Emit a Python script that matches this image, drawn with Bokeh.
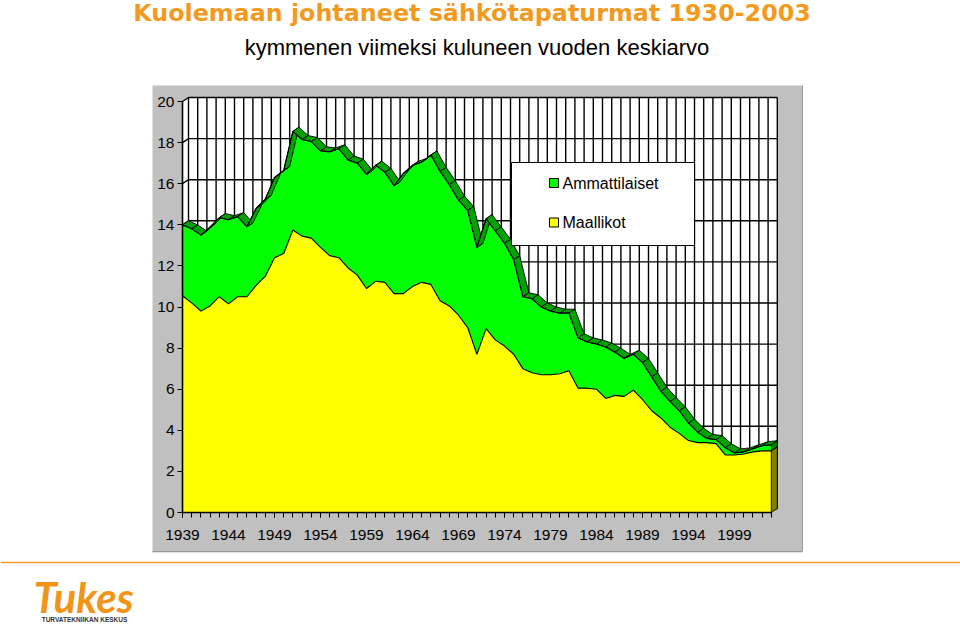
from bokeh.plotting import figure
from bokeh.models import Range1d, LinearAxis, FixedTicker
from bokeh.core.properties import value
from bokeh.embed import file_html
from bokeh.resources import INLINE

# ---------------- data ----------------
years = list(range(1939, 2004))
maallikot = [10.55, 10.2, 9.8, 10.05, 10.5, 10.15, 10.5, 10.5, 11.05, 11.5,
             12.4, 12.6, 13.75, 13.45, 13.35, 12.9, 12.5, 12.4, 11.9, 11.55,
             10.9, 11.25, 11.2, 10.65, 10.65, 11.0, 11.2, 11.1, 10.3, 10.05,
             9.6, 9.0, 7.7, 8.95, 8.4, 8.1, 7.7, 7.0, 6.8, 6.7,
             6.7, 6.75, 6.9, 6.05, 6.05, 6.0, 5.55, 5.7, 5.65, 5.95,
             5.5, 4.95, 4.6, 4.15, 3.85, 3.5, 3.4, 3.4, 3.35, 2.8,
             2.8, 2.85, 2.95, 3.0, 3.0]
ammattilaiset = [3.45, 3.6, 3.7, 3.85, 3.85, 4.1, 3.9, 3.4, 3.75, 3.75,
                 3.9, 4.05, 4.8, 4.7, 4.7, 4.7, 5.05, 5.3, 5.25, 5.45,
                 5.55, 5.65, 5.35, 5.25, 5.85, 5.9, 5.85, 6.3, 6.3, 5.9,
                 5.6, 5.7, 5.2, 5.35, 5.3, 5.0, 4.6, 3.5, 3.6, 3.3,
                 3.1, 2.95, 2.8, 2.45, 2.25, 2.2, 2.5, 2.1, 1.85, 1.75,
                 1.8, 1.65, 1.3, 1.25, 1.1, 0.85, 0.5, 0.2, 0.2, 0.35,
                 0.1, 0.1, 0.15, 0.25, 0.3]
y_ticks = [0, 2, 4, 6, 8, 10, 12, 14, 16, 18, 20]
x_label_years = [1939, 1944, 1949, 1954, 1959, 1964, 1969, 1974, 1979, 1984, 1989, 1994, 1999]
series_names = ["Ammattilaiset", "Maallikot"]
title_text = "Kuolemaan johtaneet sähkötapaturmat 1930-2003"
subtitle_text = "kymmenen viimeksi kuluneen vuoden keskiarvo"
logo_text = "Tukes"
logo_sub = "TURVATEKNIIKAN KESKUS"

total = [m + a for m, a in zip(maallikot, ammattilaiset)]

# ---------------- layout / style ----------------
W, H = 960, 626
PX0, PXY = 182.0, 9.2      # pixel of first year, pixels per year
PY0, PYV = 512.0, 20.55    # pixel of value 0, pixels per unit
x_start = years[0] - PX0 / PXY
x_end = years[0] + (W - PX0) / PXY
y_start = (PY0 - H) / PYV
y_end = PY0 / PYV


def X(px):
    return x_start + px / PXY


def Y(py):
    return (PY0 - py) / PYV


DX = 6.0 / PXY   # 3-D depth offset (data units)
DY = 4.0 / PYV

GREEN = "#00ff00"
YELLOW = "#ffff00"
BAND = "#00a400"
ORANGE = "#F39A1E"
FONT = "Liberation Sans"

p = figure(width=W, height=H, x_range=Range1d(x_start, x_end), y_range=Range1d(y_start, y_end),
           x_axis_location=None, y_axis_location=None, toolbar_location=None,
           output_backend="svg", min_border=0, outline_line_color=None,
           background_fill_color="white", border_fill_color="white")
p.grid.visible = False

# chart area (grey)
p.quad(left=X(152), right=X(802), top=Y(85), bottom=Y(552), fill_color="#c0c0c0", line_color=None)
p.line(x=[X(152), X(802), X(802)], y=[Y(551), Y(551), Y(85)], line_color="#9a9a9a", line_width=1)

x0, x1 = years[0], years[-1]
ytop = y_ticks[-1]

# back + side walls (white)
p.patch(x=[x0, x0, x0 + DX, x1 + DX, x1 + DX, x1],
        y=[0, ytop, ytop + DY, ytop + DY, DY, 0],
        fill_color="white", line_color=None)

# gridlines on the back wall
gx0, gx1, gy0, gy1 = [], [], [], []
for v in y_ticks:
    gx0 += [x0 + DX, x0]
    gx1 += [x1 + DX, x0 + DX]
    gy0 += [v + DY, v]
    gy1 += [v + DY, v + DY]
for yr in years:
    gx0.append(yr + DX)
    gx1.append(yr + DX)
    gy0.append(DY)
    gy1.append(ytop + DY)
p.segment(x0=gx0, y0=gy0, x1=gx1, y1=gy1, line_color="black", line_width=1.4)

# stacked areas
p.varea(x=years, y1=[0] * len(years), y2=maallikot, fill_color=YELLOW)
p.varea(x=years, y1=maallikot, y2=total, fill_color=GREEN)

# 3-D top band of the total
bxs, bys = [], []
for i in range(len(years) - 1):
    xa, xb = years[i], years[i + 1]
    ta, tb = total[i], total[i + 1]
    bxs.append([xa, xb, xb + DX, xa + DX])
    bys.append([ta, tb, tb + DY, ta + DY])
p.patches(xs=bxs, ys=bys, fill_color=BAND, line_color="black", line_width=0.9)

p.line(x=years, y=maallikot, line_color="black", line_width=1.1)
p.line(x=years, y=total, line_color="black", line_width=1.1)

# right side faces
p.patch(x=[x1, x1, x1 + DX, x1 + DX], y=[0, maallikot[-1], maallikot[-1] + DY, DY],
        fill_color="#808000", line_color="black", line_width=0.9)
p.patch(x=[x1, x1, x1 + DX, x1 + DX], y=[maallikot[-1], total[-1], total[-1] + DY, maallikot[-1] + DY],
        fill_color="#008000", line_color="black", line_width=0.9)

# axes
yaxis = LinearAxis(fixed_location=x0, bounds=(0, ytop), ticker=FixedTicker(ticks=y_ticks))
xaxis = LinearAxis(fixed_location=0, bounds=(x0, x1),
                   ticker=FixedTicker(ticks=x_label_years, minor_ticks=years))
for ax in (yaxis, xaxis):
    ax.axis_line_color = "black"
    ax.axis_line_width = 1.6
    ax.major_tick_line_color = "black"
    ax.minor_tick_line_color = "black"
    ax.major_tick_out = 5
    ax.major_tick_in = 0
    ax.minor_tick_out = 5
    ax.minor_tick_in = 0
    ax.major_label_text_font = FONT
    ax.major_label_text_font_size = "15.5px"
    ax.major_label_text_color = "black"
yaxis.major_label_standoff = 3
xaxis.major_label_standoff = 12
p.add_layout(yaxis, "left")
p.add_layout(xaxis, "below")

# legend
p.quad(left=X(511), right=X(694), top=Y(162), bottom=Y(245), fill_color="white",
       line_color="black", line_width=1)
p.rect(x=[X(553.5), X(553.5)], y=[Y(182.5), Y(222)], width=9, height=9,
       width_units="screen", height_units="screen",
       fill_color=[GREEN, YELLOW], line_color="black", line_width=1)
p.text(x=[X(562), X(562)], y=[Y(182.5), Y(222)], text=series_names,
       text_font=value(FONT), text_font_size="16px", text_baseline="middle",
       text_align="left", text_color="black")

# titles
p.text(x=[X(471.5)], y=[Y(12)], text=[title_text], text_font=value("DejaVu Sans"),
       text_font_style="bold", text_font_size="23.8px", text_align="center",
       text_baseline="middle", text_color=ORANGE)
p.text(x=[X(476.5)], y=[Y(46.5)], text=[subtitle_text], text_font=value(FONT),
       text_font_size="22px", text_align="center", text_baseline="middle",
       text_color="black")

# footer line and logo
p.segment(x0=[X(0)], y0=[Y(562)], x1=[X(960)], y1=[Y(562)], line_color=ORANGE, line_width=1.5)
p.text(x=[X(33)], y=[Y(596)], text=[logo_text], text_font=value("Lato"),
       text_font_style="bold italic", text_font_size="42px", text_align="left",
       text_baseline="middle", text_color="#F29418")
p.text(x=[X(84)], y=[Y(619)], text=[logo_sub], text_font=value(FONT),
       text_font_style="bold", text_font_size="6.5px", text_align="center",
       text_baseline="middle", text_color="#333333")

open("out.html", "w").write(file_html(p, INLINE))
